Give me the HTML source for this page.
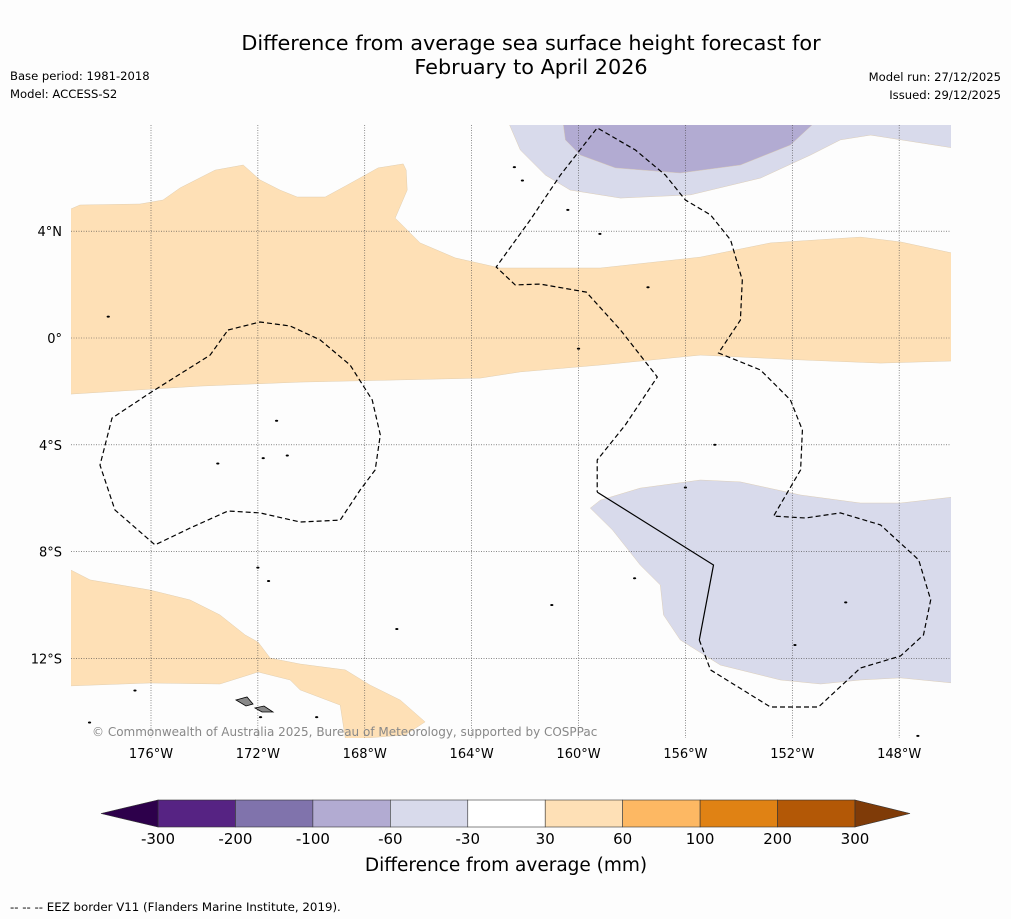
<!DOCTYPE html>
<html><head><meta charset="utf-8">
<style>
body{margin:0;background:#fdfdfd;width:1011px;height:919px;overflow:hidden;font-family:"Liberation Sans","DejaVu Sans",sans-serif;}
svg{position:absolute;left:0;top:0}
</style></head>
<body>
<svg id="chart" width="1011" height="919">
<rect width="1011" height="919" fill="#fdfdfd"/>
<text x="531" y="50" text-anchor="middle" font-size="20.8" fill="#000" font-family="DejaVu Sans, sans-serif">Difference from average sea surface height forecast for</text>
<text x="531" y="74" text-anchor="middle" font-size="20.8" fill="#000" font-family="DejaVu Sans, sans-serif">February to April 2026</text>
<text x="10" y="80" font-size="11.6" font-family="DejaVu Sans, sans-serif">Base period: 1981-2018</text>
<text x="10" y="98" font-size="11.6" font-family="DejaVu Sans, sans-serif">Model: ACCESS-S2</text>
<text x="1001" y="81" text-anchor="end" font-size="11.6" font-family="DejaVu Sans, sans-serif">Model run: 27/12/2025</text>
<text x="1001" y="99" text-anchor="end" font-size="11.6" font-family="DejaVu Sans, sans-serif">Issued: 29/12/2025</text>
<g id="map"></g>
<g id="cbar"></g>
<text x="506" y="871" text-anchor="middle" font-size="18.5" font-family="DejaVu Sans, sans-serif">Difference from average (mm)</text>
<text x="10" y="911" font-size="11.8" font-family="DejaVu Sans, sans-serif">--  --  -- EEZ border V11 (Flanders Marine Institute, 2019).</text>
</svg>
<script>
const lonTicks=[-176,-172,-168,-164,-160,-156,-152,-148];
const latTicks=[4,0,-4,-8,-12];
const orangeNorth=[[-179,4.83],[-178.66,4.98],[-176.41,5.02],[-175.55,5.17],[-174.91,5.62],[-173.6,6.29],[-172.55,6.48],[-171.92,5.92],[-171.17,5.54],[-170.53,5.28],[-169.48,5.28],[-168.73,5.69],[-167.5,6.37],[-166.56,6.52],[-166.45,6.29],[-166.41,5.54],[-166.86,4.49],[-165.93,3.56],[-164.61,3.0],[-162.93,2.62],[-159.18,2.62],[-155.44,3.03],[-152.82,3.56],[-149.45,3.78],[-147.95,3.6],[-146.0,3.18],[-146.0,-0.86],[-148.7,-0.94],[-151.69,-0.82],[-155.44,-0.64],[-159.18,-1.01],[-162.18,-1.27],[-163.68,-1.5],[-166.67,-1.57],[-170.42,-1.65],[-174.16,-1.8],[-179,-2.1]];
const orangeSouth=[[-179,-8.69],[-178.28,-9.06],[-176.04,-9.44],[-174.54,-9.81],[-173.42,-10.37],[-172.48,-11.12],[-171.99,-11.39],[-171.54,-11.99],[-170.42,-12.21],[-168.73,-12.43],[-167.8,-13.0],[-166.67,-13.56],[-165.74,-14.38],[-166.49,-14.87],[-168.17,-15],[-168.73,-15],[-168.92,-13.75],[-170.42,-13.18],[-170.79,-12.81],[-171.99,-12.51],[-173.42,-12.96],[-176.04,-12.92],[-179,-13.03]];
const lightPurpleNorth=[[-162.59,8],[-162.18,7.04],[-161.24,6.1],[-160.31,5.54],[-158.43,5.24],[-155.81,5.36],[-153.19,5.99],[-151.32,6.85],[-150.2,7.42],[-149.07,7.6],[-146,7.12],[-146,8]];
const midPurpleNorth=[[-160.57,8],[-160.49,7.42],[-159.93,6.85],[-158.62,6.37],[-156.19,6.18],[-153.94,6.48],[-152.07,7.23],[-151.24,8]];
const lightPurpleSouth=[[-159.56,-6.37],[-159.18,-6.07],[-157.69,-5.62],[-155.44,-5.32],[-153.94,-5.39],[-151.69,-5.88],[-149.45,-6.18],[-147.95,-6.18],[-146,-5.96],[-146,-12.92],[-147.95,-12.73],[-149.45,-12.81],[-150.94,-12.96],[-152.44,-12.81],[-154.69,-12.25],[-156.19,-11.31],[-156.82,-10.37],[-156.94,-9.25],[-157.69,-8.5],[-158.73,-7.19]];
const eezWest=[[-173.12,0.3],[-171.92,0.6],[-170.79,0.45],[-169.67,-0.07],[-168.55,-1.01],[-167.72,-2.32],[-167.42,-3.63],[-167.61,-4.94],[-168.17,-5.69],[-168.92,-6.82],[-170.42,-6.89],[-171.92,-6.55],[-173.12,-6.48],[-174.54,-7.12],[-175.85,-7.75],[-177.35,-6.44],[-177.91,-4.76],[-177.46,-3.0],[-176.04,-2.06],[-173.79,-0.64],[-173.12,0.3]];
const eezCentral=[[-155.48,-11.31],[-155.06,-12.43],[-152.82,-13.82],[-151.02,-13.82],[-149.45,-12.36],[-147.95,-11.91],[-147.09,-11.12],[-146.82,-9.81],[-147.27,-8.31],[-148.7,-7.0],[-150.2,-6.55],[-151.51,-6.74],[-152.7,-6.67],[-151.69,-4.94],[-151.62,-3.45],[-152.07,-2.32],[-153.19,-1.2],[-154.76,-0.56],[-153.94,0.67],[-153.87,2.17],[-154.31,3.67],[-155.06,4.61],[-156.0,5.17],[-156.75,6.1],[-157.87,7.04],[-159.3,7.87],[-160.68,6.1],[-161.81,4.42],[-163.08,2.66],[-162.37,1.99],[-161.43,2.02],[-159.71,1.72],[-158.43,0.3],[-157.05,-1.46],[-158.25,-3.26],[-159.3,-4.57],[-159.3,-5.77]];
const borderSolid=[[-159.3,-5.77],[-154.95,-8.5],[-155.48,-11.31]];
const islandsLon=[-177.6,-173.5,-171.8,-170.9,-171.3,-162.4,-162.1,-160.4,-159.2,-157.4,-160.0,-154.9,-156.0,-157.9,-161.0,-151.9,-150.0,-166.8,-172.0,-171.6,-176.6,-178.3,-171.9,-169.8,-147.3,-145.5];
const islandsLat=[0.8,-4.7,-4.5,-4.4,-3.1,6.4,5.9,4.8,3.9,1.9,-0.4,-4.0,-5.6,-9.0,-10.0,-11.5,-9.9,-10.9,-8.6,-9.1,-13.2,-14.4,-14.2,-14.2,-14.9,-14.5];
const cbarBounds=[-300,-200,-100,-60,-30,30,60,100,200,300];
const cbarColors=["#562383","#8073ac","#b2abd2","#d8daeb","#ffffff","#fee0b6","#fdb863","#e08214","#b35806"];

const X0=71,X1=951,Y0=125,Y1=738;
const x=lon=>151+(lon+176)*26.72;
const y=lat=>338-lat*26.7;
const NS="http://www.w3.org/2000/svg";
const map=document.getElementById('map');
function mk(tag,attrs,parent){const e=document.createElementNS(NS,tag);for(const k in attrs)e.setAttribute(k,attrs[k]);(parent||map).appendChild(e);return e;}
const pts=a=>a.map(p=>x(p[0]).toFixed(1)+','+y(p[1]).toFixed(1)).join(' ');
const defs=mk('defs',{});const cp=mk('clipPath',{id:'clip'},defs);mk('rect',{x:X0,y:Y0,width:X1-X0,height:Y1-Y0},cp);
const g=mk('g',{'clip-path':'url(#clip)'});
function poly(a,fill,name){const e=mk('polygon',{points:pts(a),fill:fill,stroke:'#d9c7a8','stroke-width':0.4},g);

}
poly(orangeNorth,'#fee0b6','anomaly-30-60-north');
poly(orangeSouth,'#fee0b6','anomaly-30-60-south');
poly(lightPurpleNorth,'#d8daeb','anomaly-neg30-neg60-north');
poly(midPurpleNorth,'#b2abd2','anomaly-neg60-neg100-north');
poly(lightPurpleSouth,'#d8daeb','anomaly-neg30-neg60-south');
lonTicks.forEach(l=>{const e=mk('line',{x1:x(l),x2:x(l),y1:Y0,y2:Y1,stroke:'#444','stroke-width':0.6,'stroke-dasharray':'1,1.5'},g);


const t=mk('text',{x:x(l),y:758,'text-anchor':'middle','font-size':13,'font-family':'DejaVu Sans, sans-serif'});t.textContent=(-l)+'°W';

});
latTicks.forEach(l=>{const e=mk('line',{x1:X0,x2:X1,y1:y(l),y2:y(l),stroke:'#444','stroke-width':0.6,'stroke-dasharray':'1,1.5'},g);


const t=mk('text',{x:62,y:y(l)+5,'text-anchor':'end','font-size':13,'font-family':'DejaVu Sans, sans-serif'});t.textContent=l===0?'0°':Math.abs(l)+'°'+(l>0?'N':'S');

});
islandsLon.forEach((lo,i)=>{const e=mk('ellipse',{cx:x(lo),cy:y(islandsLat[i]),rx:1.6,ry:1,fill:'#000'},g);

});
const s1=mk('polygon',{points:'236,700 247,697 253,704 246,706',fill:'#888',stroke:'#000','stroke-width':0.8},g);


const s2=mk('polygon',{points:'255,708 264,706 273,712 262,712',fill:'#888',stroke:'#000','stroke-width':0.8},g);


[eezWest,eezCentral].forEach(a=>{const e=mk('polyline',{points:pts(a),fill:'none',stroke:'#000','stroke-width':1.2,'stroke-dasharray':'5,3'},g);

});
const sb=mk('polyline',{points:pts(borderSolid),fill:'none',stroke:'#000','stroke-width':1.2},g);


const cr=mk('text',{x:92,y:736,'font-size':12,fill:'#888','font-family':'DejaVu Sans, sans-serif'});cr.textContent='© Commonwealth of Australia 2025, Bureau of Meteorology, supported by COSPPac';


const cb=document.getElementById('cbar');
const CB0=158,CB1=855,CY=800,CH=27;
const cx=i=>CB0+(CB1-CB0)*i/(cbarBounds.length-1);
cbarColors.forEach((c,i)=>{const r=mk('rect',{x:cx(i),y:CY,width:cx(i+1)-cx(i),height:CH,fill:c,stroke:'#333','stroke-width':0.6},cb);

});
const tl=mk('polygon',{points:`${CB0},${CY} ${CB0},${CY+CH} 101,${CY+CH/2}`,fill:'#2d004b',stroke:'#333','stroke-width':0.6},cb);


const tr=mk('polygon',{points:`${CB1},${CY} ${CB1},${CY+CH} 910,${CY+CH/2}`,fill:'#7f3b08',stroke:'#333','stroke-width':0.6},cb);


cbarBounds.forEach((b,i)=>{const t=mk('text',{x:cx(i),y:844,'text-anchor':'middle','font-size':15,'font-family':'DejaVu Sans, sans-serif'},cb);t.textContent=b;

});
</script>
</body></html>
